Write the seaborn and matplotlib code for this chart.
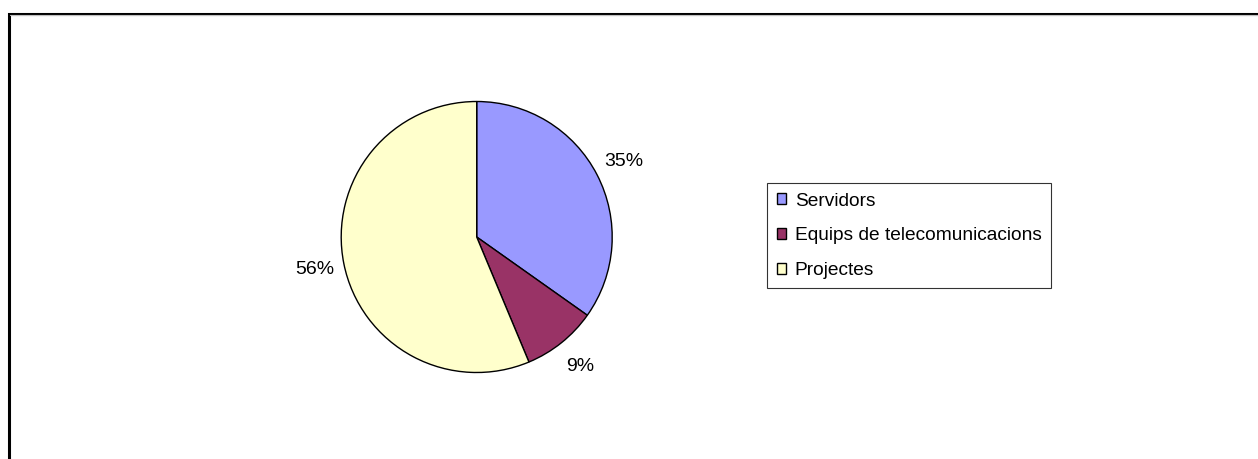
import matplotlib
matplotlib.use("Agg")
import matplotlib.pyplot as plt
import seaborn as sns
from matplotlib.patches import Patch, Rectangle
from matplotlib.lines import Line2D

categories = ["Servidors", "Equips de telecomunicacions", "Projectes"]
shares = [34.8, 8.9, 56.3]
colors = ["#9999FF", "#993366", "#FFFFCC"]

sns.set_theme(style="white")
plt.rcParams["font.family"] = ["Liberation Sans", "DejaVu Sans"]
plt.rcParams["text.color"] = "black"

W, H = 1258, 459
fig = plt.figure(figsize=(W / 100, H / 100), dpi=100)
fig.patch.set_facecolor("white")

# axes covering the whole figure, 1 data unit = 1 pixel (y up)
ax = fig.add_axes([0, 0, 1, 1])

# chart frame (only top and left edges visible)
ax.add_line(Line2D([9.5, W + 5], [H - 14.8, H - 14.8], color="#c0c0c0", lw=0.8))
ax.add_patch(Rectangle((9, -20), W + 20, H - 13.5 + 20, fill=False,
                       edgecolor="black", lw=2.2))

wedges, texts, autotexts = ax.pie(
    shares, colors=colors, startangle=90, counterclock=False,
    center=(476.7, H - 237), radius=135.5, frame=True,
    autopct="%1.0f%%", pctdistance=1.22,
    wedgeprops=dict(edgecolor="black", linewidth=1.0),
    textprops=dict(fontsize=14, color="black"),
)
ax.set_xlim(0, W)
ax.set_ylim(0, H)
ax.set_aspect("auto")
ax.axis("off")

handles = [Patch(facecolor=c, edgecolor="black", lw=1.0) for c in colors]
leg = ax.legend(handles, categories, loc="upper left",
                bbox_to_anchor=(767 / W, 1 - 183 / H), bbox_transform=fig.transFigure,
                borderaxespad=0, fontsize=13.8, frameon=True, fancybox=False,
                shadow=False, handlelength=0.5, handleheight=0.5,
                handletextpad=0.45, labelspacing=0.92, borderpad=0.5,
                labelcolor="black")
leg.get_frame().set_edgecolor("black")
leg.get_frame().set_linewidth(0.8)

fig.savefig("out.png", dpi=100, facecolor="white")
